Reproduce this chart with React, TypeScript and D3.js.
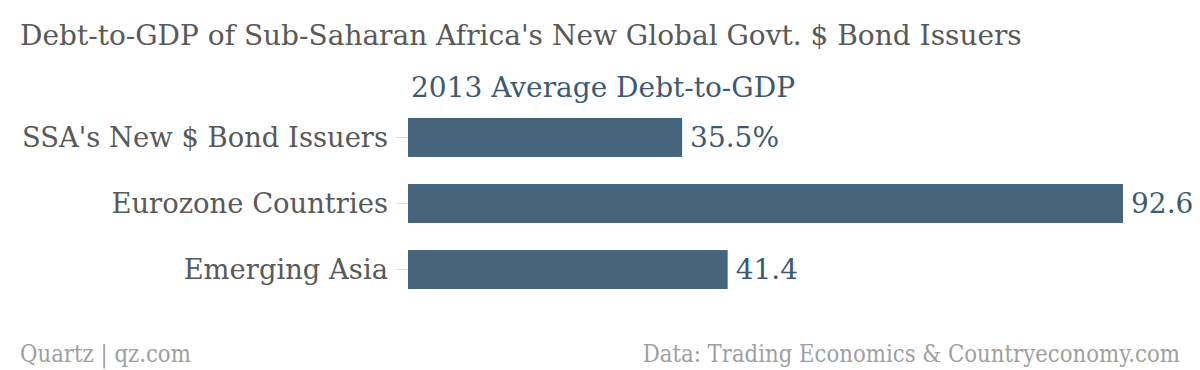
import React, { useEffect } from "react";
import * as d3 from "d3";

const categories = ["SSA's New $ Bond Issuers", "Eurozone Countries", "Emerging Asia"];
const values = [35.5, 92.6, 41.4];
const valueLabels = ["35.5%", "92.6", "41.4"];

const title = "Debt-to-GDP of Sub-Saharan Africa's New Global Govt. $ Bond Issuers";
const subtitle = "2013 Average Debt-to-GDP";
const creditLeft = "Quartz | qz.com";
const creditRight = "Data: Trading Economics & Countryeconomy.com";

const width = 1200;
const height = 370;
const serif = "'DejaVu Serif', serif";
// the credits use a condensed face; squeeze DejaVu horizontally instead
const squeeze = 0.905;

const App = () => {
  useEffect(() => {
    document.body.style.margin = "0";
  }, []);

  const x = d3.scaleLinear().domain([0, d3.max(values)!]).range([408, 1123]);
  const y = d3.scaleBand().domain(categories).range([118, 289]).paddingInner(0.41).paddingOuter(0);

  return (
    <svg width={width} height={height} style={{ display: "block", background: "#fff" }}>
      <text x={20} y={45} fontFamily={serif} fontSize={28} fill="#595959">
        {title}
      </text>
      <text x={603} y={97} textAnchor="middle" fontFamily={serif} fontSize={28} fill="#3e5a72">
        {subtitle}
      </text>

      {categories.map((c, i) => {
        const cy = y(c)! + y.bandwidth() / 2;
        return (
          <g key={c}>
            <line x1={396} x2={x(0)} y1={cy} y2={cy} stroke="#ddd" strokeWidth={1} />
            <text x={388} y={cy} dy="0.35em" textAnchor="end" fontFamily={serif} fontSize={27.4} fill="#595959">
              {c}
            </text>
            <rect x={x(0)} y={y(c)} width={x(values[i]) - x(0)} height={y.bandwidth()} fill="#46647c" />
            <text x={x(values[i]) + 8} y={cy} dy="0.35em" fontFamily={serif} fontSize={28} fill="#3e5a72">
              {valueLabels[i]}
            </text>
          </g>
        );
      })}

      <g transform={`translate(20,362) scale(${squeeze},1)`}>
        <text fontFamily={serif} fontSize={23.5} fill="#a0a0a0">
          {creditLeft}
        </text>
      </g>
      <g transform={`translate(1180,362) scale(${squeeze},1)`}>
        <text textAnchor="end" fontFamily={serif} fontSize={23.5} fill="#a0a0a0">
          {creditRight}
        </text>
      </g>
    </svg>
  );
};

export default App;
